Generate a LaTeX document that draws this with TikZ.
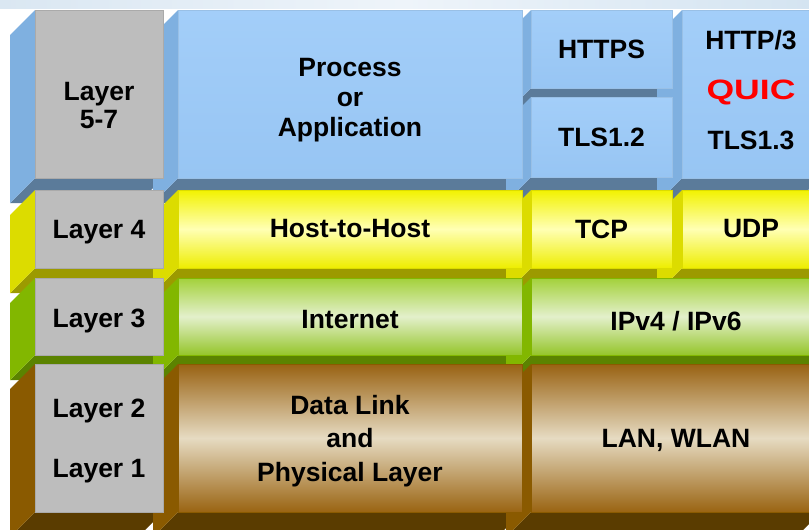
\documentclass[tikz,border=0pt]{standalone}
\usepackage{fontspec}
\setmainfont{Liberation Sans}
\usepackage{graphicx}

% front faces
\definecolor{cellgray}{HTML}{BDBDBD}
\definecolor{blutop}{HTML}{A3CEF9}
\definecolor{blulow}{HTML}{97C5F3}
\definecolor{yeltop}{HTML}{F2F200}
\definecolor{yelmid}{HTML}{FFFFB4}
\definecolor{yellow2}{HTML}{EEEE00}
\definecolor{grntop}{HTML}{A3D13A}
\definecolor{grnmid}{HTML}{E3F0CB}
\definecolor{grnlow}{HTML}{95C52A}
\definecolor{brntop}{HTML}{996212}
\definecolor{brnmid}{HTML}{E6DBC2}
\definecolor{brnlow}{HTML}{9A6412}
% side and bottom faces
\definecolor{sideblu}{HTML}{7FB0E0}
\definecolor{botblu}{HTML}{5B7B9A}
\definecolor{sideyel}{HTML}{DCDC00}
\definecolor{botyel}{HTML}{9C9A00}
\definecolor{sidegrn}{HTML}{82B700}
\definecolor{botgrn}{HTML}{5B8300}
\definecolor{sidebrn}{HTML}{8A5A00}
\definecolor{botbrn}{HTML}{5A3C00}
\definecolor{quicred}{HTML}{FF0000}
% haze
\definecolor{hazeA}{HTML}{DAE7F2}
\definecolor{hazeB}{HTML}{EEF4FA}
\definecolor{hazeC}{HTML}{D4E4F1}

\newcommand{\dep}{25}
% pushes a line of text down (tall strut) or up (deep strut)
\newcommand{\lift}[1]{\rule[-#1]{0pt}{1pt}}
\newcommand{\sink}[1]{\rule{0pt}{#1}}

\pgfdeclarelayer{faces}
\pgfsetlayers{faces,main}

\begin{document}
\begin{tikzpicture}[x=1pt,y=-1pt,
  every node/.style={inner sep=0pt,outer sep=0pt,align=center,anchor=north west,
    font=\fontsize{26.5}{30}\selectfont\bfseries},
  graycell/.style={fill=cellgray,draw=cellgray!90!black,line width=0.5pt},
  blucell/.style={top color=blutop,bottom color=blulow,draw=sideblu!80!white,line width=0.5pt},
  yelcell/.style={top color=yeltop,bottom color=yellow2,middle color=yelmid,draw=sideyel,line width=0.5pt},
  grncell/.style={top color=grntop,bottom color=grnlow,middle color=grnmid,draw=sidegrn,line width=0.5pt},
  brncell/.style={top color=brntop,bottom color=brnlow,middle color=brnmid,draw=sidebrn,line width=0.5pt}]
\useasboundingbox (0,0) rectangle (809,530);
\clip (0,0) rectangle (809,530);

% haze along the top
\fill[left color=hazeA,right color=hazeC,middle color=hazeB] (0,0) rectangle (809,8);

% Layer 5-7
\node[graycell,minimum width=128,minimum height=168] (lay57) at (35,10) {\sink{41pt}Layer\\[-2pt]5-7};
\node[blucell,minimum width=344,minimum height=168] (app) at (178,10) {\sink{31pt}Process\\or\\Application};
\node[blucell,minimum width=141,minimum height=78] (https) at (531,10) {HTTPS};
\node[blucell,minimum width=141,minimum height=80] (tls12) at (531,97) {TLS1.2};
\node[blucell,minimum width=138,minimum height=168] (http3) at (682,10) {HTTP/3\\[70pt]TLS1.3\lift{8pt}};
\node[text=quicred,font=\fontsize{28}{30}\selectfont\bfseries,anchor=center] (quic)
  at ([yshift=2pt]http3.center) {\scalebox{1.27}[1]{QUIC}};

% Layer 4
\node[graycell,minimum width=128,minimum height=78] (lay4) at (35,190) {\sink{25pt}Layer 4};
\node[yelcell,minimum width=344,minimum height=78] (host) at (178,190) {Host-to-Host};
\node[yelcell,minimum width=141,minimum height=78] (tcp) at (531,190) {TCP};
\node[yelcell,minimum width=138,minimum height=78] (udp) at (682,190) {UDP};

% Layer 3
\node[graycell,minimum width=128,minimum height=77] (lay3) at (35,278) {\sink{28pt}Layer 3};
\node[grncell,minimum width=344,minimum height=77] (inet) at (178,278) {\sink{25pt}Internet};
\node[grncell,minimum width=290,minimum height=77] (ip) at (531,278) {\sink{28pt}IPv4 / IPv6};

% Layer 2 and 1
\node[graycell,minimum width=128,minimum height=148] (lay21) at (35,364) {\sink{25pt}Layer 2\\[30pt]Layer 1};
\node[brncell,minimum width=344,minimum height=148] (link) at (178,364) {\sink{25pt}Data Link\\[3.5pt]and\\[3.5pt]Physical Layer};
\node[brncell,minimum width=290,minimum height=148] (lan) at (531,364) {\sink{23pt}LAN, WLAN};

% side and bottom faces, row by row
\begin{pgfonlayer}{faces}
\foreach \n/\c in {lay57/blu,app/blu,https/blu,tls12/blu,http3/blu,
    lay4/yel,host/yel,tcp/yel,udp/yel,lay3/grn,inet/grn,ip/grn,
    lay21/brn,link/brn,lan/brn}{
  \fill[fill=bot\c] (\n.south west) -- (\n.south east) -- ++(-\dep,\dep)
    -- ([shift={(-\dep,\dep)}]\n.south west) -- cycle;
  \fill[fill=side\c] (\n.north west) -- (\n.south west) -- ++(-\dep,\dep)
    -- ([shift={(-\dep,\dep)}]\n.north west) -- cycle;
}
\end{pgfonlayer}
\end{tikzpicture}
\end{document}
